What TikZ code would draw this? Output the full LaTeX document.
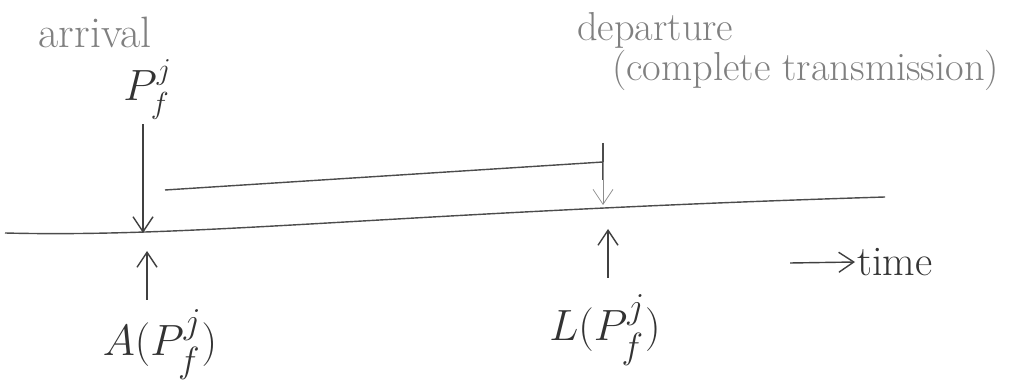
\documentclass[tikz,border=0pt]{standalone}
\usepackage{amsmath}
\usepackage{xcolor}
\usetikzlibrary{arrows.meta,positioning,calc}
\tikzset{
  evlabel/.style={inner sep=1pt, text=black!80, font=\fontsize{30}{30}\selectfont},
  evnote/.style={inner sep=1pt, text=black!50, align=left, font=\fontsize{23}{25}\selectfont},
  evarrow/.style={-{Straight Barb[length=3mm, width=4mm]}, black!75, thick},
  tline/.style={black!70, thick}
}

\begin{document}
\begin{tikzpicture}
\useasboundingbox (0,0) rectangle (20.68,7.74);
% time axis
\coordinate (t0) at (0.1,3.08);
\coordinate (t1) at (17.7,3.8);
\draw[tline] (t0) .. controls (4,2.98) and (8,3.5) .. (t1);
% arrival side
\node[evnote, font=\fontsize{25}{25}\selectfont] (arr) at (1.9,7.1) {arrival};
\node[evlabel, font=\fontsize{26}{26}\selectfont] (pkt) at (2.95,5.95) {$P_f^j$};
\coordinate (arrhit) at (2.86,3.08);
\draw[evarrow] (pkt.south -| arrhit) ++(0,-0.05) coordinate (pkttop) -- (arrhit);
\node[evlabel] (A) at (3.2,0.85) {$A(P_f^j)$};
\coordinate (Atip) at (2.94,2.72);
\draw[evarrow] (A.north -| Atip) ++(0,0.15) coordinate (Abot) -- (Atip);
% transmission
\coordinate (tx0) at (3.3,3.94);
\coordinate (tx1) at (12.06,4.5);
\draw[tline] (tx0) -- (tx1);
\draw[tline] (12.06,4.88) coordinate (tick) -- (12.06,4.14);
\coordinate (dephit) at (12.06,3.64);
\draw[evarrow, black!45, thin] (tx1) -- (dephit);
% departure side
\node[evnote, anchor=west] (dep) at (11.5,7.14) {departure};
\node[evnote, anchor=west] (cmp) at (12.2,6.34) {(complete transmission)};
\node[evlabel] (L) at (12.1,1.14) {$L(P_f^j)$};
\coordinate (Ltip) at (12.16,3.16);
\draw[evarrow] (L.north -| Ltip) ++(0,0.3) coordinate (Lbot) -- (Ltip);
% time direction
\coordinate (ta) at (15.8,2.48);
\node[evlabel, anchor=west, font=\fontsize{24}{24}\selectfont] (time) at (17.1,2.5) {time};
\draw[evarrow] (ta) -- (time.west);
\end{tikzpicture}
\end{document}
